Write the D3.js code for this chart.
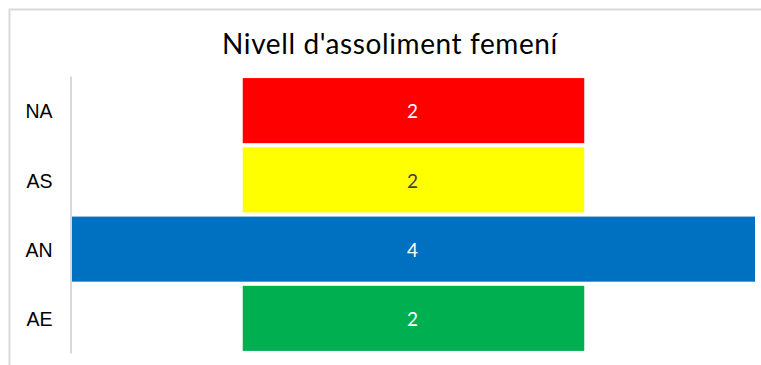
<!DOCTYPE html>
<html>
<head>
<meta charset="utf-8">
<script src="https://cdn.jsdelivr.net/npm/d3@7"></script>
<style>
  html, body { margin: 0; padding: 0; background: #fff; }
  svg { display: block; }
  text { font-family: Lato, "Open Sans", sans-serif; }
</style>
</head>
<body>
<svg id="chart" width="761" height="365"></svg>
<script>
// Achievement levels (top to bottom) and their counts
const categories = ["NA", "AS", "AN", "AE"];
const values = [2, 2, 4, 2];
const barColors = ["#FF0000", "#FFFF00", "#0070C0", "#00B050"];
const labelColors = ["#FFFFFF", "#404040", "#FFFFFF", "#FFFFFF"];
const title = "Nivell d'assoliment femení";

const svg = d3.select("#chart");
const W = 761, H = 365;
const plot = { left: 72, right: 755, top: 76, bottom: 353 };

// Chart frame
svg.append("rect")
  .attr("x", 9.5).attr("y", 9.5)
  .attr("width", W + 10).attr("height", H + 10)
  .attr("fill", "#fff").attr("stroke", "#d9d9d9").attr("stroke-width", 2);

// Title
svg.append("text")
  .attr("x", 390).attr("y", 54)
  .attr("text-anchor", "middle")
  .attr("font-size", 28)
  .attr("letter-spacing", 0.6)
  .attr("fill", "#000")
  .text(title);

const maxV = d3.max(values);
// Centred bars: each spans -v/2 .. v/2
const x = d3.scaleLinear().domain([-maxV / 2, maxV / 2]).range([plot.left, plot.right]);
const y = d3.scaleBand().domain(categories).range([plot.top, plot.bottom]).paddingInner(0.06).paddingOuter(0.03);

const data = categories.map((c, i) => ({ c, v: values[i], fill: barColors[i], lc: labelColors[i] }));

svg.append("g").selectAll("rect").data(data).join("rect")
  .attr("x", d => x(-d.v / 2))
  .attr("width", d => x(d.v / 2) - x(-d.v / 2))
  .attr("y", d => y(d.c))
  .attr("height", y.bandwidth())
  .attr("fill", d => d.fill);

svg.append("g").selectAll("text").data(data).join("text")
  .attr("x", x(0) - 1)
  .attr("y", d => y(d.c) + y.bandwidth() / 2 + 1)
  .attr("dy", "0.35em")
  .attr("text-anchor", "middle")
  .attr("font-size", 19)
  .attr("fill", d => d.lc)
  .text(d => d.v);

// Category axis
const axis = svg.append("g")
  .attr("transform", `translate(${plot.left - 1.5},0)`)
  .call(d3.axisLeft(y).tickSize(0).tickPadding(18));
axis.select(".domain").attr("stroke", "#d9d9d9").attr("stroke-width", 2);
axis.selectAll("text")
  .attr("font-size", 19.5)
  .attr("dy", "0.4em")
  .attr("fill", "#000")
  .style("font-family", "\"Liberation Sans\", Arial, sans-serif");
</script>
</body>
</html>
